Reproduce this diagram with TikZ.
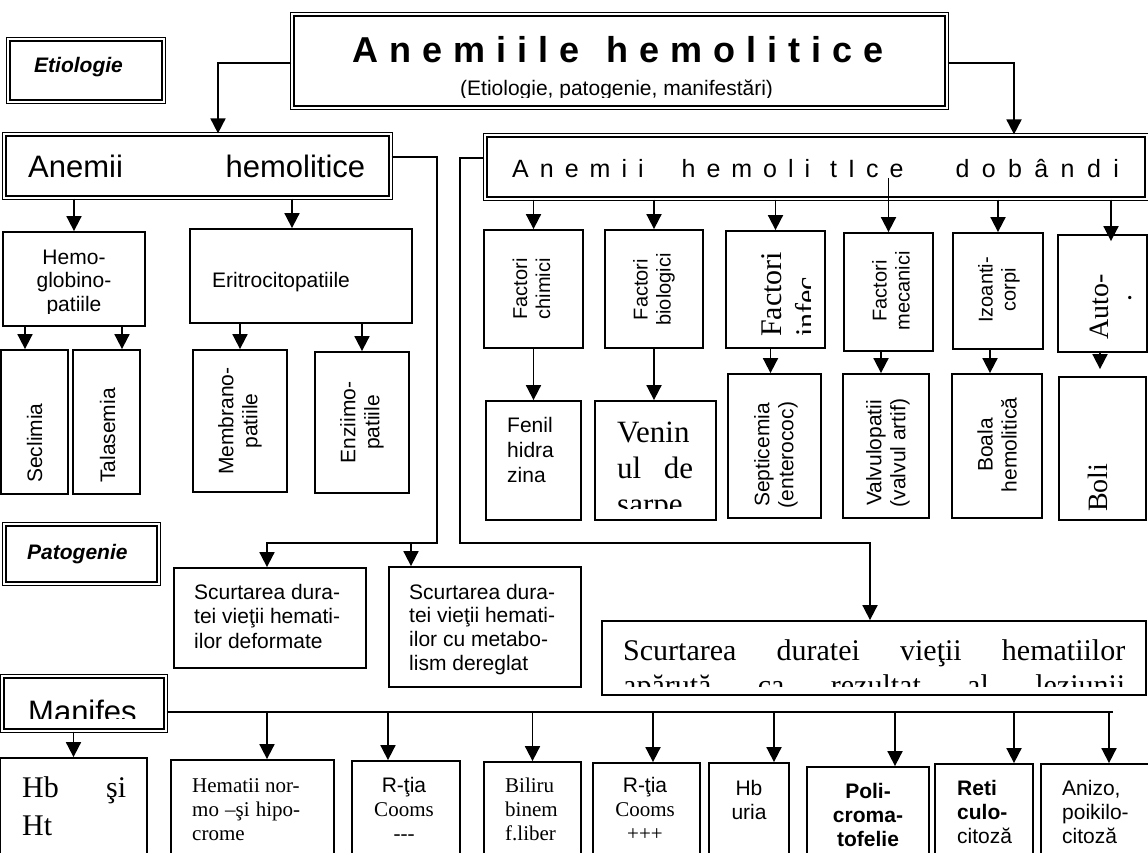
\documentclass[tikz,border=0pt]{standalone}
\usepackage{fontspec}
\setmainfont{Liberation Serif}
\setsansfont{Liberation Sans}
\usetikzlibrary{arrows.meta}

\newcommand{\ltab}[1]{\begin{tabular}[t]{@{}l@{}}#1\end{tabular}}
\newcommand{\ctab}[1]{\begin{tabular}[t]{@{}c@{}}#1\end{tabular}}

\tikzset{
  dbox/.style={draw, double, line width=1.6pt, double distance=1.8pt, inner sep=0pt},
  sbox/.style={draw, line width=1.8pt, inner sep=0pt},
  conn/.style={line width=1.8pt},
  link/.style={conn, -{Triangle[length=15pt,width=15pt]}},
  ar/.style={inner sep=0pt, font=\sffamily\fontsize{21}{24}\selectfont},
  tm/.style={inner sep=0pt, font=\rmfamily\fontsize{21}{24}\selectfont},
  vt/.style={ar, rotate=90, align=center},
}

\begin{document}
\begin{tikzpicture}[x=1pt, y=-1pt]
\useasboundingbox (0,0) rectangle (1148,853);

% header
\node[dbox, minimum width=654.6pt, minimum height=93.6pt] (title) at (619.5,61) {};
\node[anchor=base west, inner sep=0pt, font=\sffamily\bfseries\fontsize{36}{40}\selectfont] (titleT) at (352,63) {\spaceskip=11pt\relax A n e m i i l e\hspace{27pt}h e m o l i t i c e};
\begin{scope}
  \clip (292,70) rectangle (947,97.5);
  \node[ar, anchor=base west] (subT) at (460,96) {(Etiologie, patogenie, manifestări)};
\end{scope}

\node[dbox, minimum width=155.6pt, minimum height=62.6pt] (etio) at (86,70.5) {};
\node[ar, anchor=base west, font=\sffamily\bfseries\itshape\fontsize{21}{24}\selectfont] (etioT) at (34,73) {Etiologie};

\node[dbox, minimum width=386.6pt, minimum height=63.6pt] (lhem) at (197.5,166) {};
\node[anchor=base west, inner sep=0pt, font=\sffamily\fontsize{31}{36}\selectfont] (lhemT) at (28,178) {\makebox[337pt][s]{Anemii hemolitice}};

\node[dbox, minimum width=661.6pt, minimum height=63.6pt] (rhem) at (816,167) {};
\node[anchor=base west, inner sep=0pt, font=\sffamily\fontsize{25}{30}\selectfont] (rhemT) at (512,178) {\spaceskip=11pt\relax A n e m i i\hspace{38pt}h e m o l i\hspace{20pt}t I c e\hspace{52pt}{\spaceskip=12.4pt\relax d o b â n d i}};

% inherited
\node[sbox, minimum width=142pt, minimum height=94pt] (hemo) at (74,279) {};
\begin{scope}
  \clip (3,232) rectangle (145,313);
  \node[ar, anchor=base, font=\sffamily\fontsize{21}{23.5}\selectfont] (hemoT) at (74,264) {\ctab{Hemo-\\globino-\\patiile}};
\end{scope}
\node[sbox, minimum width=222pt, minimum height=94pt] (erit) at (301,276) {};
\node[ar, anchor=base west] (eritT) at (212,287) {Eritrocitopatiile};

\node[sbox, minimum width=67pt, minimum height=144pt] (secl) at (34.5,422) {};
\node[vt, anchor=base west] (seclT) at (42,483) {Seclimia};
\node[sbox, minimum width=67pt, minimum height=144pt] (tala) at (106.5,422) {};
\node[vt, anchor=base west] (talaT) at (115,483) {Talasemia};
\node[sbox, minimum width=94pt, minimum height=142pt] (memb) at (240,421) {};
\node[vt] (membT) at (240,421) {Membrano-\\patiile};
\node[sbox, minimum width=94pt, minimum height=141pt] (enzi) at (362,422.5) {};
\node[vt] (enziT) at (362,422.5) {Enziimo-\\patiile};

% acquired
\node[sbox, minimum width=99pt, minimum height=118pt] (chim) at (533.5,289) {};
\node[vt, font=\sffamily\fontsize{20}{23}\selectfont] (chimT) at (531.5,289) {Factori\\chimici};
\node[sbox, minimum width=98pt, minimum height=118pt] (biol) at (654,289) {};
\node[vt, font=\sffamily\fontsize{20}{23}\selectfont] (biolT) at (654,289.5) {Factori\\biologici};
\node[sbox, minimum width=99pt, minimum height=117pt] (infe) at (775.5,289.5) {};
\node[anchor=base west, rotate=90, inner sep=0pt, font=\rmfamily\fontsize{30}{34}\selectfont] (infeT) at (781,337) {Factori};
\begin{scope}
  \clip (790,276) rectangle (810,345);
  \node[anchor=base west, rotate=90, inner sep=0pt, font=\rmfamily\fontsize{30}{34}\selectfont] (infe2T) at (816,337) {infecţioşi};
\end{scope}
\node[sbox, minimum width=89pt, minimum height=118pt] (meca) at (888.5,292) {};
\node[vt, font=\sffamily\fontsize{20}{23}\selectfont] (mecaT) at (891,291) {Factori\\mecanici};
\node[sbox, minimum width=90pt, minimum height=116pt] (izoa) at (998,291) {};
\node[vt, font=\sffamily\fontsize{20}{23}\selectfont] (izoaT) at (999,290) {Izoanti-\\corpi};
\node[sbox, minimum width=89pt, minimum height=117pt] (auto) at (1102.5,293.5) {};
\node[anchor=base west, rotate=90, inner sep=0pt, font=\rmfamily\fontsize{28}{32}\selectfont] (autoT) at (1108,340) {Auto-};
\node[anchor=base, rotate=90, inner sep=0pt, font=\rmfamily\fontsize{28}{32}\selectfont] (autoD) at (1131,298) {.};

\node[sbox, minimum width=95pt, minimum height=119pt] (feni) at (533.5,460.5) {};
\node[ar, anchor=base west, font=\sffamily\fontsize{21}{25}\selectfont] (feniT) at (507,432) {\ltab{Fenil\\hidra\\zina}};
\node[sbox, minimum width=121pt, minimum height=119pt] (veni) at (655.5,460.5) {};
\begin{scope}
  \clip (596,402) rectangle (715,508);
  \node[anchor=base west, inner sep=0pt, font=\rmfamily\fontsize{31}{36}\selectfont] (veniT) at (617,442) {\ltab{Venin\\\makebox[76pt][s]{ul de}\\sarpe}};
\end{scope}
\node[sbox, minimum width=93pt, minimum height=144pt] (sept) at (774.5,446) {};
\node[vt] (septT) at (776,455) {Septicemia\\(enterococ)};
\node[sbox, minimum width=86pt, minimum height=144pt] (valv) at (886,446) {};
\node[vt] (valvT) at (888,453) {Valvulopatii\\(valvul artif)};
\node[sbox, minimum width=90pt, minimum height=144pt] (boal) at (997,446) {};
\node[vt] (boalT) at (997,445) {Boala\\hemolitică};
\node[sbox, minimum width=87pt, minimum height=143pt] (boli) at (1102.5,448.5) {};
\node[anchor=base west, rotate=90, inner sep=0pt, font=\rmfamily\fontsize{28}{32}\selectfont] (boliT) at (1107,512) {Boli};

% pathogenesis
\node[dbox, minimum width=154.6pt, minimum height=59.6pt] (pato) at (81.5,554) {};
\node[ar, anchor=base west, font=\sffamily\bfseries\itshape\fontsize{21}{24}\selectfont] (patoT) at (27,559) {Patogenie};

\node[sbox, minimum width=192pt, minimum height=100pt] (scu1) at (270,618) {};
\node[ar, anchor=base west, font=\sffamily\fontsize{21}{24.5}\selectfont] (scu1T) at (194,599) {\ltab{Scurtarea dura-\\tei vieţii hemati-\\ilor deformate}};
\node[sbox, minimum width=192pt, minimum height=120pt] (scu2) at (485,627) {};
\node[ar, anchor=base west, font=\sffamily\fontsize{21}{23.7}\selectfont] (scu2T) at (409,599) {\ltab{Scurtarea dura-\\tei vieţii hemati-\\ilor cu metabo-\\lism dereglat}};

\node[sbox, minimum width=544pt, minimum height=74pt] (big) at (874,658) {};
\begin{scope}
  \clip (603,622) rectangle (1145,686);
  \node[anchor=base west, inner sep=0pt, font=\rmfamily\fontsize{30}{35}\selectfont] (bigT) at (623,660) {\ltab{\makebox[502pt][s]{Scurtarea duratei vieţii hematiilor}\\\makebox[502pt][s]{apărută ca rezultat al leziunii}}};
\end{scope}

% manifestations
\node[dbox, minimum width=163.6pt, minimum height=54.6pt] (manif) at (84,703.5) {};
\begin{scope}
  \clip (3,676) rectangle (166,718);
  \node[anchor=base west, inner sep=0pt, font=\sffamily\fontsize{31}{36}\selectfont] (manifT) at (28,722) {Manifes};
\end{scope}

\node[sbox, minimum width=147pt, minimum height=122pt] (hbht) at (73.5,819) {};
\node[anchor=base west, inner sep=0pt, font=\rmfamily\fontsize{30}{38}\selectfont] (hbhtT) at (22,797) {\ltab{\makebox[104pt][s]{Hb şi}\\Ht}};
\node[sbox, minimum width=163pt, minimum height=120pt] (hema) at (252.5,820) {};
\node[tm, anchor=base west] (hemaT) at (192,792) {\ltab{Hematii nor-\\\makebox[108pt][s]{mo –şi hipo-}\\crome}};
\node[sbox, minimum width=108pt, minimum height=119pt] (coo1) at (406,820.5) {};
\node[tm, anchor=base] (coo1T) at (404,792) {\ctab{\sffamily R-ţia\\Cooms\\-{}-{}-}};
\node[sbox, minimum width=97pt, minimum height=118pt] (bili) at (532.5,821) {};
\node[tm, anchor=base west] (biliT) at (505,792) {\ltab{Biliru\\binem\\f.liber}};
\node[sbox, minimum width=107pt, minimum height=117pt] (coo2) at (646.5,821.5) {};
\node[tm, anchor=base] (coo2T) at (645,792) {\ctab{\sffamily R-ţia\\Cooms\\+++}};
\node[sbox, minimum width=80pt, minimum height=117pt] (hbur) at (749,821.5) {};
\node[ar, anchor=base] (hburT) at (749,795) {\ctab{Hb\\uria}};
\node[sbox, minimum width=122pt, minimum height=113pt] (poli) at (868,823.5) {};
\node[ar, anchor=base, font=\sffamily\bfseries\fontsize{21}{24}\selectfont] (poliT) at (868,798) {\ctab{Poli-\\croma-\\tofelie}};
\node[sbox, minimum width=98pt, minimum height=116pt] (reti) at (984,822) {};
\node[ar, anchor=base west] (retiT) at (957,795) {\ltab{\textbf{Reti}\\\textbf{culo-}\\citoză}};
\node[sbox, minimum width=108pt, minimum height=116pt] (aniz) at (1095,822) {};
\node[ar, anchor=base west] (anizT) at (1062,795) {\ltab{Anizo,\\poikilo-\\citoză}};

% connectors, top
\coordinate (tLhem) at ([xshift=20.5pt]lhem.north);
\coordinate (tRhem) at ([xshift=198pt]rhem.north);
\draw[link] ([yshift=-2pt]title.west) -| (tLhem);
\draw[link] ([yshift=-2pt]title.east) -| (tRhem);

\draw[link] (lhem.south -| hemo.north) -- (hemo.north);
\coordinate (tErit) at ([xshift=-9pt]erit.north);
\draw[link] (lhem.south -| tErit) -- (tErit);
\coordinate (tSecl) at ([xshift=-9.5pt]secl.north);
\coordinate (tTala) at ([xshift=15.5pt]tala.north);
\draw[link] (hemo.south -| tSecl) -- (tSecl);
\draw[link] (hemo.south -| tTala) -- (tTala);
\draw[link] (erit.south -| memb.north) -- (memb.north);
\draw[link] (erit.south -| enzi.north) -- (enzi.north);

\draw[link] (rhem.south -| chim.north) -- (chim.north);
\draw[link] (rhem.south -| biol.north) -- (biol.north);
\draw[link] (rhem.south -| infe.north) -- (infe.north);
\draw[link] (meca.north |- rhemT.base) -- (meca.north);
\draw[link] (rhem.south -| izoa.north) -- (izoa.north);
\coordinate (tAuto) at ([xshift=8.5pt,yshift=-7pt]auto.north);
\draw[link] (rhem.south -| tAuto) -- (tAuto);

\draw[link] (chim.south) -- (feni.north);
\draw[link] (biol.south) -- (biol.south |- veni.north);
\coordinate (tSept) at ([xshift=-4pt]sept.north);
\draw[link] (infe.south -| tSept) -- (tSept);
\coordinate (tValv) at ([xshift=-5pt]valv.north);
\draw[link] (meca.south -| tValv) -- (tValv);
\coordinate (tBoal) at ([xshift=-7pt]boal.north);
\draw[link] (izoa.south -| tBoal) -- (tBoal);
\coordinate (tBoli) at ([xshift=-2.5pt,yshift=7pt]boli.north);
\draw[link] (auto.south -| tBoli) -- (tBoli);

% connectors, pathogenesis
\coordinate (jl) at (437,543);
\coordinate (tScu1) at ([xshift=-3pt]scu1.north);
\coordinate (tScu2) at ([xshift=-74pt]scu2.north);
\draw[link] ([yshift=9pt]lhem.east) -| (jl) -| (tScu1);
\draw[link] (jl -| tScu2) -- (tScu2);
\coordinate (jr) at (460,543);
\coordinate (tBig) at ([xshift=-4pt]big.north);
\draw[link] ([yshift=9pt]rhem.west) -| (jr) -| (tBig);

% connectors, manifestations
\coordinate (mend) at (1113,712);
\draw[conn] ([yshift=-8.5pt]manif.east) -- (mend);
\draw[link] (manif.south -| hbht.north) -- (hbht.north);
\coordinate (tHema) at ([xshift=14.5pt]hema.north);
\draw[link] (mend -| tHema) -- (tHema);
\coordinate (tCoo1) at ([xshift=-18pt]coo1.north);
\draw[link] (mend -| tCoo1) -- (tCoo1);
\draw[link] (mend -| bili.north) -- (bili.north);
\coordinate (tCoo2) at ([xshift=6.5pt]coo2.north);
\draw[link] (mend -| tCoo2) -- (tCoo2);
\coordinate (tHbur) at ([xshift=25pt]hbur.north);
\draw[link] (mend -| tHbur) -- (tHbur);
\coordinate (tPoli) at ([xshift=27pt]poli.north);
\draw[link] (mend -| tPoli) -- (tPoli);
\coordinate (tReti) at ([xshift=30pt]reti.north);
\draw[link] (mend -| tReti) -- (tReti);
\coordinate (tAniz) at ([xshift=14pt]aniz.north);
\draw[link] (mend -| tAniz) -- (tAniz);
\end{tikzpicture}
\end{document}
